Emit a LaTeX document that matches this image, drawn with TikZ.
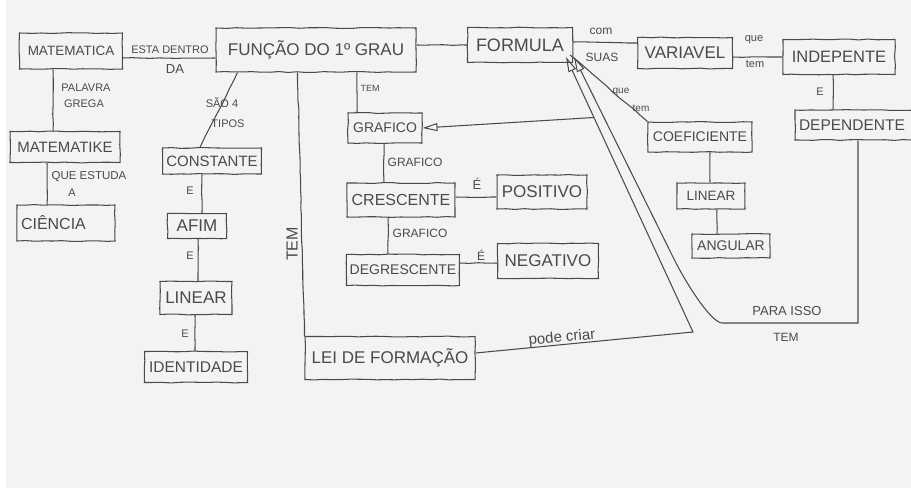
\documentclass[tikz,border=0pt]{standalone}
\usepackage{fontspec}
\setmainfont{Liberation Sans}
\usetikzlibrary{arrows.meta,calc,decorations.pathmorphing}
\definecolor{ink}{HTML}{4A4A4A}
\definecolor{paper}{HTML}{F3F3F3}
\newcommand\hw[1]{\fontsize{#1}{#1}\selectfont}
\begin{document}
\begin{tikzpicture}[x=1pt,y=-1pt,
  wobble/.style={decorate,decoration={random steps,segment length=9pt,amplitude=0.45pt}},
  box/.style={draw=ink,line width=1.05pt,text=ink,inner sep=0pt,wobble},
  lbox/.style={box,align=left,inner xsep=4pt},
  con/.style={draw=ink,line width=1.05pt,wobble},
  arr/.style={draw=ink,line width=1.05pt,-{Triangle[open,length=15pt,width=8pt,line width=1pt]}},
  lab/.style={text=ink,inner sep=0pt}]
\pgfmathsetseed{7}
\useasboundingbox (0,0) rectangle (911,493);
\clip (0,0) rectangle (911,493);
\fill[white] (0,0) rectangle (911,493);
\fill[paper] (6,0) rectangle (911,488);

% concept boxes
\node[box,minimum width=103,minimum height=36,font=\hw{13.5}] (mat) at (71,51) {MATEMATICA};
\node[box,minimum width=200,minimum height=44,font=\hw{17}] (fun) at (316,50) {FUNÇÃO DO 1º GRAU};
\node[box,minimum width=105,minimum height=35,font=\hw{18}] (form) at (520,45) {FORMULA};
\node[box,minimum width=95,minimum height=31,font=\hw{17}] (var) at (685,53) {VARIAVEL};
\node[box,minimum width=112,minimum height=35,font=\hw{16.5}] (ind) at (839,57) {INDEPENTE};
\node[lbox,text width=142,minimum height=30,font=\hw{15.5}] (dep) at (870,125) {DEPENDENTE};
\node[box,minimum width=110,minimum height=31,font=\hw{15}] (matk) at (65,147) {MATEMATIKE};
\node[lbox,text width=90,minimum height=36,font=\hw{16}] (cien) at (66,223) {CIÊNCIA};
\node[box,minimum width=99,minimum height=26,font=\hw{15}] (const) at (212,161) {CONSTANTE};
\node[box,minimum width=59,minimum height=25,font=\hw{17}] (afim) at (197,226) {AFIM};
\node[box,minimum width=72,minimum height=33,font=\hw{17}] (linL) at (196,298) {LINEAR};
\node[box,minimum width=103,minimum height=31,font=\hw{15.5}] (ident) at (196,367) {IDENTIDADE};
\node[box,minimum width=74,minimum height=30,font=\hw{14}] (graf) at (385,128) {GRAFICO};
\node[box,minimum width=108,minimum height=34,font=\hw{16}] (cresc) at (401,200) {CRESCENTE};
\node[box,minimum width=113,minimum height=31,font=\hw{14}] (degr) at (403,270) {DEGRESCENTE};
\node[box,minimum width=90,minimum height=34,font=\hw{17}] (pos) at (542,192) {POSITIVO};
\node[box,minimum width=101,minimum height=35,font=\hw{17}] (neg) at (548,261) {NEGATIVO};
\node[box,minimum width=104,minimum height=30,font=\hw{14}] (coef) at (700,137) {COEFICIENTE};
\node[box,minimum width=68,minimum height=26,font=\hw{13.5}] (linR) at (711,196) {LINEAR};
\node[box,minimum width=78,minimum height=24,font=\hw{14}] (ang) at (731,246) {ANGULAR};
\node[box,minimum width=170,minimum height=43,font=\hw{17}] (lei) at (390,358) {LEI DE FORMAÇÃO};

% helper points for the connectors
\coordinate (x53) at (53,0);
\coordinate (x47) at (47,0);
\coordinate (x202) at (202,0);
\coordinate (x198) at (198,0);
\coordinate (x195) at (195,0);
\coordinate (x357) at (357,0);
\coordinate (x384) at (384,0);
\coordinate (x388) at (388,0);
\coordinate (x710) at (710,0);
\coordinate (x717) at (717,0);
\coordinate (x833) at (833,0);
\coordinate (x858) at (858,0);
\coordinate (tip1) at (566,57);
\coordinate (tip2) at (574,57);
\coordinate (tipc) at (570,55);
\coordinate (pc) at (693,332);
\coordinate (pcorner) at (858,323);
\coordinate (pleft) at (722,323);

% left column
\draw[con] ($(mat.east)+(0,7)$) -- ($(fun.west)+(0,8)$);
\draw[con] (mat.south -| x53) -- (matk.north -| x53);
\draw[con] (matk.south -| x47) -- (cien.north -| x47);

% types of function
\draw[con] ($(fun.south west)+(22,0)$) -- ($(const.north)+(-12,0)$);
\draw[con] (const.south -| x202) -- (afim.north -| x202);
\draw[con] (afim.south -| x198) -- (linL.north -| x198);
\draw[con] (linL.south -| x195) -- (ident.north -| x195);
\draw[con] ($(fun.south west)+(82,0)$) -- (lei.north west);

% graphs
\draw[con] (fun.south -| x357) -- (graf.north -| x357);
\draw[con] (graf.south -| x384) -- (cresc.north -| x384);
\draw[con] (cresc.south -| x388) -- (degr.north -| x388);
\draw[con] ($(cresc.east)+(0,-3)$) coordinate (c1) -- (c1 -| pos.west);
\draw[con] ($(degr.east)+(0,-7)$) coordinate (d1) -- (d1 -| neg.west);

% formula chain
\draw[con] (fun.east |- form.west) -- (form.west);
\draw[con] ($(form.east)+(0,-3)$) -- ($(var.west)+(0,-10)$);
\draw[con] ($(var.east)+(0,4)$) -- (ind.west);
\draw[con] (ind.south -| x833) -- (dep.north -| x833);
\draw[con] (coef.north west) -- (tipc);
\draw[con] (coef.south -| x710) -- (linR.north -| x710);
\draw[con] (linR.south -| x717) -- (ang.north -| x717);

% arrows into the formula and the graph
\draw[arr] ($(lei.east)+(0,-5)$) -- (pc) -- (tip1);
\draw[arr] (dep.south -| x858) -- (pcorner) -- (pleft)
  .. controls (710,322) and (684,280) .. (672,255) -- (tip2);
\draw[arr] ($(tip1)!0.22!(pc)$) -- (graf.east);

% link words
\node[lab,font=\hw{11}] (l1) at (170,50) {ESTA DENTRO};
\node[lab,font=\hw{13}] (l2) at (175,69) {DA};
\node[lab,font=\hw{11}] (l3) at (86,88) {PALAVRA};
\node[lab,font=\hw{11}] (l4) at (84,104) {GREGA};
\node[lab,font=\hw{11.5}] (l5) at (89,177) {QUE ESTUDA};
\node[lab,font=\hw{11}] (l6) at (72,193) {A};
\node[lab,font=\hw{11}] (l7) at (222,103) {SÃO 4};
\node[lab,font=\hw{11}] (l8) at (228,124) {TIPOS};
\node[lab,font=\hw{11}] (l9) at (190,191) {E};
\node[lab,font=\hw{11}] (l10) at (190,256) {E};
\node[lab,font=\hw{11}] (l11) at (185,334) {E};
\node[lab,font=\hw{16},rotate=90] (l12) at (292,244) {TEM};
\node[lab,font=\hw{9}] (l13) at (370,88) {TEM};
\node[lab,font=\hw{12}] (l14) at (415,162) {GRAFICO};
\node[lab,font=\hw{12}] (l15) at (420,233) {GRAFICO};
\node[lab,font=\hw{13}] (l16) at (477,184) {É};
\node[lab,font=\hw{12}] (l17) at (481,255) {É};
\node[lab,font=\hw{12}] (l18) at (601,31) {com};
\node[lab,font=\hw{12}] (l19) at (602,57) {SUAS};
\node[lab,font=\hw{11}] (l20) at (754,40) {que};
\node[lab,font=\hw{11}] (l21) at (755,64) {tem};
\node[lab,font=\hw{10}] (l22) at (621,92) {que};
\node[lab,font=\hw{10}] (l23) at (641,108) {tem};
\node[lab,font=\hw{11}] (l24) at (820,92) {E};
\node[lab,font=\hw{13}] (l25) at (787,311) {PARA ISSO};
\node[lab,font=\hw{12}] (l26) at (786,337) {TEM};
\node[lab,font=\hw{15},rotate=5] (l27) at (562,338) {pode criar};
\end{tikzpicture}
\end{document}
